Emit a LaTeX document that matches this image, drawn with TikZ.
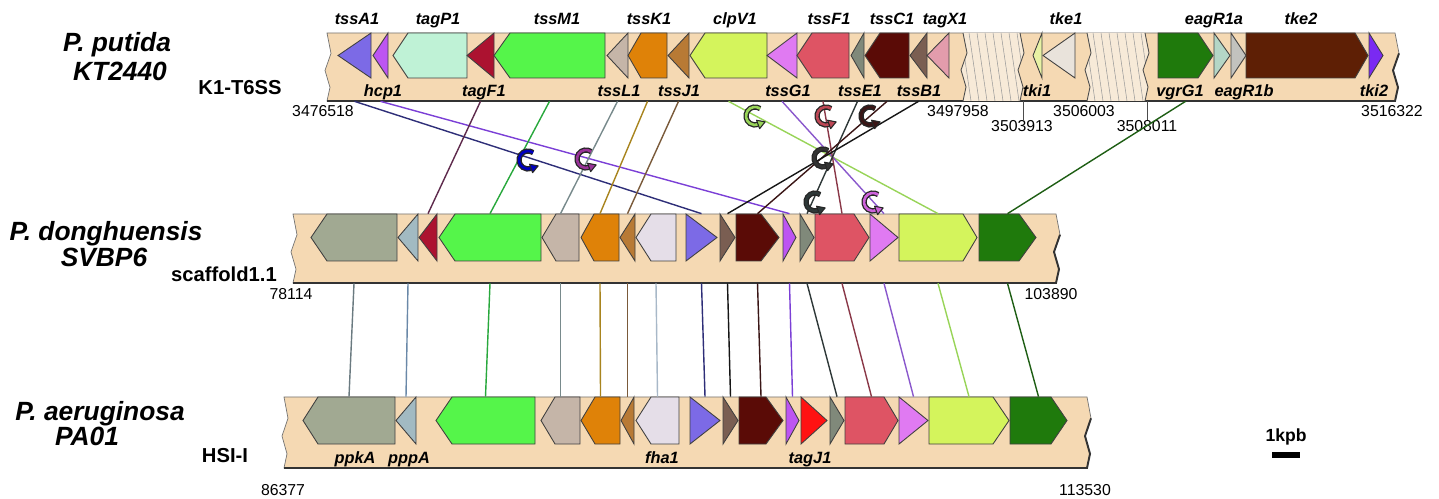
\documentclass[tikz,border=0pt]{standalone}
\usepackage{fontspec}
\setmainfont{Liberation Sans}
\setsansfont{Liberation Sans}
\usetikzlibrary{
    arrows.meta,
    positioning,
    calc,
    fit
}

% --- gene and band colours ---
\definecolor{cBand}{HTML}{F5D9B3}
\definecolor{cGap}{HTML}{F7EAD8}
\definecolor{cTssA}{HTML}{7C6AE6}
\definecolor{cHcp}{HTML}{BD55F2}
\definecolor{cTagP}{HTML}{BFF2D6}
\definecolor{cTagF}{HTML}{AC1230}
\definecolor{cTssM}{HTML}{55F54A}
\definecolor{cTssL}{HTML}{C5B5A8}
\definecolor{cTssK}{HTML}{DF8208}
\definecolor{cTssJ}{HTML}{B87A35}
\definecolor{cClpV}{HTML}{D4F45C}
\definecolor{cTssG}{HTML}{E07AF2}
\definecolor{cTssF}{HTML}{DE5464}
\definecolor{cTssE}{HTML}{80897A}
\definecolor{cTssC}{HTML}{5A0B06}
\definecolor{cTssB}{HTML}{7A5E52}
\definecolor{cTagX}{HTML}{E39CAC}
\definecolor{cTkiA}{HTML}{E8F2A4}
\definecolor{cTkeA}{HTML}{E9E3DB}
\definecolor{cVgrG}{HTML}{1F7A0C}
\definecolor{cEagA}{HTML}{B4D6C6}
\definecolor{cEagB}{HTML}{C2C2BE}
\definecolor{cTkeB}{HTML}{5E1F05}
\definecolor{cTkiB}{HTML}{7A2AF2}
\definecolor{cPpkA}{HTML}{A1A992}
\definecolor{cPppA}{HTML}{A2BAC2}
\definecolor{cFha}{HTML}{E5DEE8}
\definecolor{cTagJ}{HTML}{FF1212}

% --- link colours ---
\definecolor{lTssA}{HTML}{2E2E78}
\definecolor{lHcp}{HTML}{7B3FD6}
\definecolor{lTagF}{HTML}{5E2A4C}
\definecolor{lTssM}{HTML}{28A83C}
\definecolor{lTssL}{HTML}{788A8C}
\definecolor{lTssK}{HTML}{A8841E}
\definecolor{lTssJ}{HTML}{7A5A3A}
\definecolor{lClpV}{HTML}{98D458}
\definecolor{lTssG}{HTML}{8A58CC}
\definecolor{lTssF}{HTML}{8A3848}
\definecolor{lTssE}{HTML}{2E3838}
\definecolor{lTssC}{HTML}{3A1616}
\definecolor{lTssB}{HTML}{161616}
\definecolor{lVgrG}{HTML}{1E5E14}
\definecolor{lPpkA}{HTML}{6A7A80}
\definecolor{lPppA}{HTML}{6A88A8}
\definecolor{lFha}{HTML}{A8B8C8}

\tikzset{
    % --- Chromosome band ---
    band body/.style = {
        fill=cBand, draw=black!55, line width=0.4pt
    },
    band shadow/.style = {
        draw=black!80, line width=1.1pt
    },
    % --- Hatched gap in the band ---
    hatch/.style = {
        draw=black!40, line width=0.3pt
    },
    zig/.style = {
        draw=black!70, line width=0.5pt
    },
    % --- Gene arrow ---
    gene/.style = {
        draw=black!75, line width=0.5pt
    },
    % --- Invisible box round a gene (for links) ---
    slot/.style = {
        inner sep=0pt, draw=none
    },
    % --- Gene name ---
    gene tag/.style = {
        font=\fontsize{9.3}{10}\selectfont\bfseries\itshape,
        inner sep=0pt, anchor=base
    },
    % --- Species / strain name ---
    species/.style = {
        font=\fontsize{15}{17}\selectfont\bfseries\itshape,
        inner sep=0pt
    },
    % --- Locus name ---
    locus/.style = {
        font=\fontsize{11.5}{13}\selectfont\bfseries,
        inner sep=0pt
    },
    % --- Genome position ---
    coord/.style = {
        font=\fontsize{9}{10}\selectfont,
        inner sep=0pt, anchor=base
    },
    % --- Homology link ---
    link/.style = {
        line width=0.8pt
    },
    tick/.style = {
        draw=black!70, line width=0.5pt
    },
    % --- Inversion symbol ---
    flip out/.style = {
        line width=3pt, black!85
    },
    flip in/.style = {
        line width=1.5pt
    },
    flip head/.style = {
        draw=black!85, line width=0.6pt, line join=round
    },
    scale bar/.style = {
        line width=3.4pt
    }
}

% band: left, right, top, bottom
\newcommand{\band}[4]{%
    \filldraw[band body] (#1,#3) -- (#2,#3)
        -- ({#2+4},{#3+0.3*(#4-#3)}) -- ({#2-2},{#3+0.55*(#4-#3)})
        -- ({#2+3},{#3+0.8*(#4-#3)}) -- (#2,#4) -- (#1,#4)
        -- ({#1+3},{#3+0.8*(#4-#3)}) -- ({#1-2},{#3+0.55*(#4-#3)})
        -- ({#1+4},{#3+0.3*(#4-#3)}) -- cycle;
    \draw[band shadow] (#1,#4) -- (#2,#4) -- ({#2+3},{#3+0.8*(#4-#3)})
        -- ({#2-2},{#3+0.55*(#4-#3)}) -- ({#2+4},{#3+0.3*(#4-#3)});
}

% hatched gap in the top band: left, right
\newcommand{\gap}[2]{%
    \begin{scope}
        \clip (#1,33) -- (#2,33) -- ({#2+4},53) -- ({#2-2},70) -- ({#2+3},87)
            -- (#2,101) -- (#1,101) -- ({#1+3},87) -- ({#1-2},70)
            -- ({#1+4},53) -- cycle;
        \fill[cGap] ({#1-10},33) rectangle ({#2+10},101);
        \foreach \h in {-10,-2,...,70}
            \draw[hatch] ({#1+\h},33) -- ({#1+\h+10},101);
    \end{scope}
    \draw[zig] (#1,33) -- ({#1+4},53) -- ({#1-2},70) -- ({#1+3},87) -- (#1,101);
    \draw[zig] (#2,33) -- ({#2+4},53) -- ({#2-2},70) -- ({#2+3},87) -- (#2,101);
}

% gene: name, tip, shoulder, end, colour
\newcommand{\gene}[5]{%
    \filldraw[gene, fill=#5] (#4,\gTop) -- (#3,\gTop) -- (#2,\gMid)
        -- (#3,\gBot) -- (#4,\gBot) -- cycle;
    \node[slot, fit={(#2,\bTop) (#4,\bBot)}] (#1) {};
}

% inversion symbol: x, y, colour
\newcommand{\flip}[3]{%
    \begin{scope}[shift={(#1,#2)}, y=0.02cm]
        \draw[flip out] (55:9) arc[start angle=55, end angle=292, radius=9];
        \draw[flip in, #3] (55:9) arc[start angle=55, end angle=294, radius=9];
        \filldraw[flip head, fill=#3] (290:4.5) -- (290:13.5)
            -- ($(290:9)+(20:7.5)$) -- cycle;
    \end{scope}
}

\begin{document}
\begin{tikzpicture}[x=0.02cm, y=-0.02cm]

\useasboundingbox (0,0) rectangle (1439,499);

% ---------------------------------------------------------
% P. putida KT2440
% ---------------------------------------------------------
\node[species] (PpName)   at (117,45) {P. putida};
\node[species] (PpStrain) at (120,71) {KT2440};
\node[locus]   (PpLocus)  at (240,88) {K1-T6SS};

\band{327}{1395}{33}{101}
\gap{963}{1020}
\gap{1087}{1145}

\def\bTop{33}\def\bBot{101}\def\gTop{33}\def\gBot{78}\def\gMid{55.5}
\gene{PpTssA1}{338}{371}{371}{cTssA}
\gene{PpHcp1}{373}{388}{388}{cHcp}
\gene{PpTagP1}{393}{408}{467}{cTagP}
\gene{PpTagF1}{467}{494}{494}{cTagF}
\gene{PpTssM1}{494}{510}{605}{cTssM}
\gene{PpTssL1}{607}{628}{628}{cTssL}
\gene{PpTssK1}{628}{641}{667}{cTssK}
\gene{PpTssJ1}{668}{689}{689}{cTssJ}
\gene{PpClpV1}{690}{705}{767}{cClpV}
\gene{PpTssG1}{767}{797}{797}{cTssG}
\gene{PpTssF1}{797}{812}{849}{cTssF}
\gene{PpTssE1}{851}{864}{864}{cTssE}
\gene{PpTssC1}{865}{880}{909}{cTssC}
\gene{PpTssB1}{910}{927}{927}{cTssB}
\gene{PpTagX1}{927}{949}{949}{cTagX}
\gene{PpTki1}{1033}{1042}{1042}{cTkiA}
\gene{PpTke1}{1043}{1075}{1075}{cTkeA}
\gene{PpVgrG1}{1213}{1198}{1158}{cVgrG}
\gene{PpEagR1a}{1230}{1214}{1214}{cEagA}
\gene{PpEagR1b}{1246}{1231}{1231}{cEagB}
\gene{PpTke2}{1368}{1355}{1246}{cTkeB}
\gene{PpTki2}{1383}{1369}{1369}{cTkiB}

% gene names above
\node[gene tag] (TagTssA1) at (357,25) {tssA1};
\node[gene tag] (TagTagP1) at (438,25) {tagP1};
\node[gene tag] (TagTssM1) at (557,25) {tssM1};
\node[gene tag] (TagTssK1) at (649,25) {tssK1};
\node[gene tag] (TagClpV1) at (735,25) {clpV1};
\node[gene tag] (TagTssF1) at (829,25) {tssF1};
\node[gene tag] (TagTssC1) at (892,25) {tssC1};
\node[gene tag] (TagTagX1) at (945,25) {tagX1};
\node[gene tag] (TagTke1)  at (1066,25) {tke1};
\node[gene tag] (TagEagR1a) at (1214,25) {eagR1a};
\node[gene tag] (TagTke2)  at (1301,25) {tke2};

% gene names below
\node[gene tag] (TagHcp1)  at (383,97) {hcp1};
\node[gene tag] (TagTagF1) at (484,97) {tagF1};
\node[gene tag] (TagTssL1) at (619,97) {tssL1};
\node[gene tag] (TagTssJ1) at (679,97) {tssJ1};
\node[gene tag] (TagTssG1) at (788,97) {tssG1};
\node[gene tag] (TagTssE1) at (860,97) {tssE1};
\node[gene tag] (TagTssB1) at (919,97) {tssB1};
\node[gene tag] (TagTki1)  at (1037,97) {tki1};
\node[gene tag] (TagVgrG1) at (1180,97) {vgrG1};
\node[gene tag] (TagEagR1b) at (1244,97) {eagR1b};
\node[gene tag] (TagTki2)  at (1374,97) {tki2};

% positions
\draw[tick] (1023,101) -- (1023,120);
\draw[tick] (1147,101) -- (1147,120);
\node[coord] (PosA) at (323,117) {3476518};
\node[coord] (PosB) at (958,117) {3497958};
\node[coord] (PosC) at (1022,132) {3503913};
\node[coord] (PosD) at (1084,117) {3506003};
\node[coord] (PosE) at (1147,132) {3508011};
\node[coord] (PosF) at (1392,117) {3516322};

% ---------------------------------------------------------
% P. donghuensis SVBP6
% ---------------------------------------------------------
\node[species] (PdName)   at (106,234) {P. donghuensis};
\node[species] (PdStrain) at (104,257) {SVBP6};
\node[locus]   (PdLocus)  at (224,274) {scaffold1.1};

\band{293}{1056}{214}{283}

\def\bTop{214}\def\bBot{283}\def\gTop{214}\def\gBot{261}\def\gMid{237.5}
\gene{PdPpkA}{311}{327}{397}{cPpkA}
\gene{PdPppA}{398}{418}{418}{cPppA}
\gene{PdTagF1}{419}{437}{437}{cTagF}
\gene{PdTssM1}{439}{455}{541}{cTssM}
\gene{PdTssL1}{542}{556}{579}{cTssL}
\gene{PdTssK1}{581}{594}{619}{cTssK}
\gene{PdTssJ1}{620}{635}{635}{cTssJ}
\gene{PdFha1}{636}{651}{676}{cFha}
\gene{PdTssA1}{717}{686}{686}{cTssA}
\gene{PdTssB1}{735}{720}{720}{cTssB}
\gene{PdTssC1}{779}{761}{736}{cTssC}
\gene{PdHcp1}{796}{783}{783}{cHcp}
\gene{PdTssE1}{814}{800}{800}{cTssE}
\gene{PdTssF1}{869}{854}{815}{cTssF}
\gene{PdTssG1}{898}{870}{870}{cTssG}
\gene{PdClpV1}{977}{963}{899}{cClpV}
\gene{PdVgrG1}{1036}{1019}{979}{cVgrG}

\node[coord] (PosG) at (291,300) {78114};
\node[coord] (PosH) at (1051,300) {103890};

% ---------------------------------------------------------
% P. aeruginosa PA01
% ---------------------------------------------------------
\node[species] (PaName)   at (100,414) {P. aeruginosa};
\node[species] (PaStrain) at (87,436) {PA01};
\node[locus]   (PaLocus)  at (225,456) {HSI-I};

\band{284}{1087}{397}{468}

\def\bTop{397}\def\bBot{468}\def\gTop{397}\def\gBot{444}\def\gMid{420.5}
\gene{PaPpkA}{303}{318}{395}{cPpkA}
\gene{PaPppA}{396}{416}{416}{cPppA}
\gene{PaTssM1}{436}{452}{535}{cTssM}
\gene{PaTssL1}{541}{555}{580}{cTssL}
\gene{PaTssK1}{581}{595}{620}{cTssK}
\gene{PaTssJ1}{621}{634}{634}{cTssJ}
\gene{PaFha1}{636}{651}{679}{cFha}
\gene{PaTssA1}{720}{690}{690}{cTssA}
\gene{PaTssB1}{738}{723}{723}{cTssB}
\gene{PaTssC1}{783}{766}{739}{cTssC}
\gene{PaHcp1}{799}{786}{786}{cHcp}
\gene{PaTagJ1}{827}{801}{801}{cTagJ}
\gene{PaTssE1}{844}{830}{830}{cTssE}
\gene{PaTssF1}{898}{884}{845}{cTssF}
\gene{PaTssG1}{928}{899}{899}{cTssG}
\gene{PaClpV1}{1009}{993}{929}{cClpV}
\gene{PaVgrG1}{1067}{1051}{1010}{cVgrG}

\node[gene tag] (TagPpkA)  at (355,463) {ppkA};
\node[gene tag] (TagPppA)  at (409,463) {pppA};
\node[gene tag] (TagFha1)  at (662,463) {fha1};
\node[gene tag] (TagTagJ1) at (810,463) {tagJ1};

\node[coord] (PosI) at (283,495) {86377};
\node[coord] (PosJ) at (1085,495) {113530};

% ---------------------------------------------------------
% Links P. putida -> P. donghuensis
% ---------------------------------------------------------
\draw[link, lTssA] (PpTssA1.south) -- (PdTssA1.north);
\draw[link, lHcp]  (PpHcp1.south)  -- (PdHcp1.north);
\draw[link, lTagF] (PpTagF1.south) -- (PdTagF1.north);
\draw[link, lTssM] (PpTssM1.south) -- (PdTssM1.north);
\draw[link, lTssL] (PpTssL1.south) -- (PdTssL1.north);
\draw[link, lTssK] (PpTssK1.south) -- (PdTssK1.north);
\draw[link, lTssJ] (PpTssJ1.south) -- (PdTssJ1.north);
\draw[link, lClpV] (PpClpV1.south) -- (PdClpV1.north);
\draw[link, lTssG] (PpTssG1.south) -- (PdTssG1.north);
\draw[link, lTssF] (PpTssF1.south) -- (PdTssF1.north);
\draw[link, lTssE] (PpTssE1.south) -- (PdTssE1.north);
\draw[link, lTssC] (PpTssC1.south) -- (PdTssC1.north);
\draw[link, lTssB] (PpTssB1.south) -- (PdTssB1.north);
\draw[link, lVgrG] (PpVgrG1.south) -- (PdVgrG1.north);

% ---------------------------------------------------------
% Links P. donghuensis -> P. aeruginosa
% ---------------------------------------------------------
\draw[link, lPpkA] (PdPpkA.south)  -- (PaPpkA.north);
\draw[link, lPppA] (PdPppA.south)  -- (PaPppA.north);
\draw[link, lTssM] (PdTssM1.south) -- (PaTssM1.north);
\draw[link, lTssL] (PdTssL1.south) -- (PaTssL1.north);
\draw[link, lTssK] (PdTssK1.south) -- (PaTssK1.north);
\draw[link, lTssJ] (PdTssJ1.south) -- (PaTssJ1.north);
\draw[link, lFha]  (PdFha1.south)  -- (PaFha1.north);
\draw[link, lTssA] (PdTssA1.south) -- (PaTssA1.north);
\draw[link, lTssB] (PdTssB1.south) -- (PaTssB1.north);
\draw[link, lTssC] (PdTssC1.south) -- (PaTssC1.north);
\draw[link, lHcp]  (PdHcp1.south)  -- (PaHcp1.north);
\draw[link, lTssE] (PdTssE1.south) -- (PaTssE1.north);
\draw[link, lTssF] (PdTssF1.south) -- (PaTssF1.north);
\draw[link, lTssG] (PdTssG1.south) -- (PaTssG1.north);
\draw[link, lClpV] (PdClpV1.south) -- (PaClpV1.north);
\draw[link, lVgrG] (PdVgrG1.south) -- (PaVgrG1.north);

% ---------------------------------------------------------
% Inversion symbols
% ---------------------------------------------------------
\flip{528}{160}{blue!75!black}
\flip{586}{159}{violet!80}
\flip{755}{116}{lClpV}
\flip{826}{116}{cTssF!85!black}
\flip{870}{116}{lTssC}
\flip{823}{158}{black!80}
\flip{815}{202}{lTssE}
\flip{873}{202}{cTssG!80!violet}

% ---------------------------------------------------------
% Scale bar
% ---------------------------------------------------------
\node[locus, font=\fontsize{10}{12}\selectfont\bfseries] (ScaleTag) at (1286,437) {1kpb};
\coordinate (BarL) at (1272,455);
\coordinate (BarR) at (1300,455);
\draw[scale bar] (BarL) -- (BarR);

\end{tikzpicture}
\end{document}
